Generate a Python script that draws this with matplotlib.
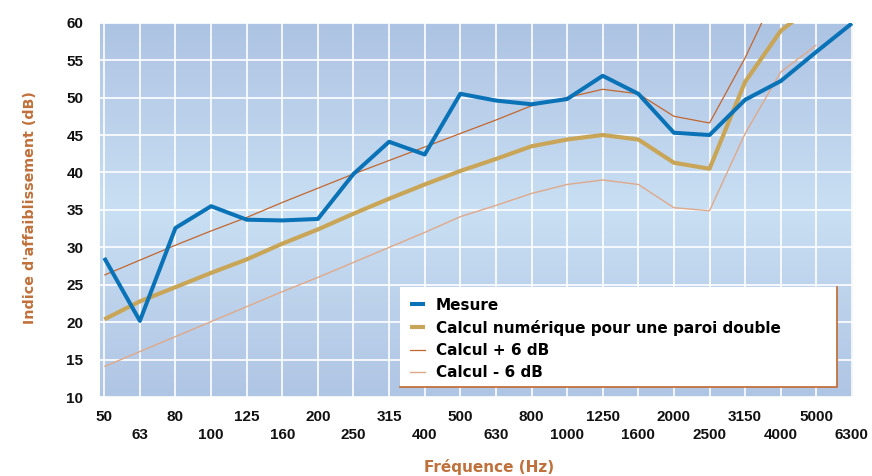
import numpy as np
import matplotlib
matplotlib.use("Agg")
import matplotlib.pyplot as plt
from matplotlib.colors import LinearSegmentedColormap
from matplotlib.patches import Rectangle
from matplotlib.lines import Line2D

nan = np.nan

# --- data ----------------------------------------------
frequences = ["50", "63", "80", "100", "125", "160", "200", "250", "315", "400", "500",
              "630", "800", "1000", "1250", "1600", "2000", "2500", "3150", "4000", "5000", "6300"]
mesure = [28.6, 20.2, 32.6, 35.5, 33.7, 33.6, 33.8, 39.8, 44.1, 42.4, 50.5,
          49.6, 49.1, 49.8, 52.9, 50.5, 45.3, 45.0, 49.7, 52.2, 56.1, 59.9]
calcul = [20.4, 22.8, 24.7, 26.6, 28.4, 30.5, 32.4, 34.5, 36.5, 38.4, 40.2,
          41.8, 43.5, 44.4, 45.0, 44.4, 41.3, 40.5, 52.1, 58.9, 62.6, nan]
calcul_plus6 = [26.3, 28.3, 30.3, 32.2, 34.0, 36.0, 37.9, 39.8, 41.6, 43.4, 45.2,
                47.0, 48.9, 50.0, 51.1, 50.5, 47.5, 46.6, 55.3, 65.3, nan, nan]
calcul_moins6 = [14.1, 16.1, 18.1, 20.1, 22.1, 24.1, 26.0, 28.0, 30.0, 32.0, 34.1,
                 35.6, 37.2, 38.4, 39.0, 38.4, 35.3, 34.9, 45.2, 53.4, 57.0, nan]
y_ticks = [10, 15, 20, 25, 30, 35, 40, 45, 50, 55, 60]

BLEU = "#0a72b6"
OR = "#c9a657"
BRUN = "#c2672f"
SAUMON = "#dfa98a"
TITRE = "#c0703a"

fig = plt.figure(figsize=(8.72, 4.76), dpi=100)
ax = fig.add_axes([100 / 872, 1 - 397.3 / 476, 753 / 872, 374.7 / 476])

x = np.arange(len(frequences))

# fond en degrade (plus clair au milieu)
fond = LinearSegmentedColormap.from_list("fond", ["#adc3e3", "#c9dff3", "#afc5e4"])
grad = np.linspace(0, 1, 256).reshape(-1, 1)
ax.imshow(grad, cmap=fond, extent=[-0.12, 21.03, 10, 60], aspect="auto",
          origin="upper", zorder=0)

# lignes
ax.plot(x, calcul_moins6, color=SAUMON, lw=1.0, zorder=3, solid_capstyle="butt")
ax.plot(x, calcul_plus6, color=BRUN, lw=0.9, zorder=3, solid_capstyle="butt")
ax.plot(x, calcul, color=OR, lw=3.0, zorder=4, solid_capstyle="butt")
ax.plot(x, mesure, color=BLEU, lw=2.9, zorder=5, solid_capstyle="butt")

ax.set_xlim(-0.12, 21.03)
ax.set_ylim(10, 60)

# axes et grille
ax.set_xticks(x[::2])
ax.set_xticklabels(frequences[::2])
ax.set_xticks(x[1::2], minor=True)
ax.set_xticklabels(frequences[1::2], minor=True)
ax.set_yticks(y_ticks)
ax.tick_params(axis="both", which="both", length=0)
ax.tick_params(axis="x", which="major", pad=9.0)
ax.tick_params(axis="x", which="minor", pad=22.0)
ax.tick_params(axis="y", pad=12.0)
for lab in ax.get_xticklabels(which="both") + ax.get_yticklabels():
    lab.set_fontfamily(["Liberation Sans", "DejaVu Sans"])
    lab.set_fontweight("bold")
    lab.set_fontsize(11)
    lab.set_color("#111111")

ax.grid(True, which="both", axis="x", color="white", lw=1.2, zorder=1)
ax.grid(True, which="major", axis="y", color="white", lw=1.2, zorder=1)
ax.set_axisbelow(False)
for s in ax.spines.values():
    s.set_visible(False)

fig.text(489 / 872, 1 - 467 / 476, "Fréquence (Hz)", color=TITRE, fontsize=11,
         fontweight="bold", ha="center", va="center")
fig.text(30 / 872, 1 - 208 / 476, "Indice d'affaiblissement (dB)", color=TITRE,
         fontsize=10.3, fontweight="bold", ha="center", va="center", rotation=90)

# cadre de la legende
x0, x1 = (400 - 100) / 753, (836.7 - 100) / 753
y0, y1 = (397.3 - 386.7) / 374.7, (397.3 - 286.7) / 374.7
ax.add_patch(Rectangle((x0, y0), x1 - x0, y1 - y0, transform=ax.transAxes,
                       facecolor="white", edgecolor="none", zorder=6))
ax.add_line(Line2D([x0, x1, x1], [y0, y0, y1], transform=ax.transAxes,
                   color=BRUN, lw=1.2, zorder=7))

handles = [
    Line2D([], [], color=BLEU, lw=2.9, solid_capstyle="butt"),
    Line2D([], [], color=OR, lw=3.0, solid_capstyle="butt"),
    Line2D([], [], color=BRUN, lw=0.9),
    Line2D([], [], color=SAUMON, lw=1.0),
]
labels = ["Mesure", "Calcul numérique pour une paroi double", "Calcul + 6 dB", "Calcul - 6 dB"]
leg = ax.legend(handles, labels, loc="upper left",
                bbox_to_anchor=((410 - 100) / 753, (397.3 - 297.5) / 374.7),
                frameon=False, borderpad=0, borderaxespad=0, handlelength=0.95,
                handletextpad=0.75, labelspacing=0.47,
                prop={"weight": "bold", "size": 11})
leg.set_zorder(8)

fig.savefig("out.png", dpi=100)
